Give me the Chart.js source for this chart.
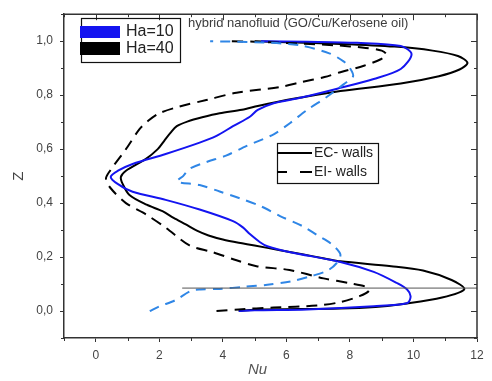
<!DOCTYPE html>
<html lang="en">
<head>
<meta charset="UTF-8">
<title>Nu vs Z, hybrid nanofluid</title>
<script src="https://cdn.jsdelivr.net/npm/chart.js"></script>
<style>
  html, body { margin: 0; padding: 0; background: #fff; }
  #nuChart { display: block; }
</style>
</head>
<body>
<canvas id="nuChart" width="492" height="381"></canvas>
<script>
// Ha=40, EC walls (black solid)
const zHa40EC  = [0.000, 0.005, 0.009, 0.015, 0.028, 0.050, 0.081, 0.115, 0.150, 0.166, 0.184, 0.195, 0.210, 0.225, 0.243, 0.253, 0.265, 0.280, 0.297, 0.320, 0.345, 0.370, 0.394, 0.430, 0.470, 0.497, 0.520, 0.564, 0.600, 0.630, 0.660, 0.685, 0.703, 0.718, 0.733, 0.746, 0.760, 0.775, 0.790, 0.815, 0.843, 0.870, 0.895, 0.920, 0.945, 0.965, 0.980, 0.990, 0.996, 1.000];
const nuHa40EC = [4.5,   5.0,   7.7,   8.8,   9.8,   10.9,  11.6,  11.2,  10.3,  9.3,   7.7,   7.2,   6.5,   5.8,   5.0,   4.5,   4.0,   3.55,  3.2,   2.85,  2.45,  2.1,   1.6,   1.06,  0.85,  0.79,  0.95,  1.58,  1.95,  2.15,  2.35,  2.55,  2.9,   3.35,  3.9,   4.6,   5.1,   5.7,   6.4,   7.7,   9.6,   10.8,  11.45, 11.7,  11.4,  10.6,  9.4,   7.7,   6.0,   5.0];

// Ha=40, EI walls (black dashed)
const zHa40EI  = [0.000, 0.006, 0.013, 0.020, 0.033, 0.055, 0.075, 0.090, 0.103, 0.121, 0.152, 0.166, 0.188, 0.218, 0.243, 0.309, 0.358, 0.400, 0.455, 0.490, 0.520, 0.600, 0.673, 0.705, 0.733, 0.758, 0.782, 0.809, 0.830, 0.849, 0.867, 0.885, 0.909, 0.933, 0.950, 0.965, 0.975, 0.985, 0.993, 0.998, 1.000];
const nuHa40EI = [3.8,   4.5,   5.6,   6.96,  7.7,   8.3,   8.6,   8.5,   8.0,   7.17,  6.1,   5.06,  4.43,  3.69,  2.95,  2.2,   1.58,  0.95,  0.47,  0.32,  0.45,  0.95,  1.37,  1.65,  2.0,   2.64,  3.48,  4.43,  5.8,   6.5,   7.2,   7.7,   8.44,  8.97,  9.15,  9.0,   8.5,   7.5,   6.0,   5.0,   4.2];

// Ha=10, EC walls (blue solid)
const zHa10EC  = [0.000, 0.003, 0.006, 0.018, 0.030, 0.055, 0.080, 0.103, 0.145, 0.182, 0.218, 0.240, 0.255, 0.285, 0.309, 0.333, 0.376, 0.412, 0.442, 0.470, 0.497, 0.520, 0.545, 0.582, 0.624, 0.649, 0.685, 0.720, 0.745, 0.770, 0.790, 0.824, 0.860, 0.897, 0.952, 0.982, 0.994, 0.998, 1.000];
const nuHa10EC = [4.5,   5.0,   6.65,  8.75,  9.81,  9.91,  9.8,   9.49,  8.75,  7.7,   6.12,  5.4,   5.17,  4.85,  4.64,  4.32,  3.27,  2.2,   1.16,  0.7,   0.47,  0.7,   1.16,  2.2,   3.27,  3.8,   4.32,  4.85,  5.1,   5.6,   6.43,  7.6,   8.75,  9.6,   9.94,  9.6,   8.23,  6.65,  5.2];

// Ha=10, EI walls (light blue dashed)
const zHa10EI  = [0.000, 0.017, 0.040, 0.075, 0.080, 0.082, 0.090, 0.097, 0.110, 0.130, 0.150, 0.180, 0.210, 0.240, 0.260, 0.279, 0.315, 0.352, 0.388, 0.418, 0.443, 0.467, 0.480, 0.500, 0.527, 0.552, 0.576, 0.612, 0.655, 0.697, 0.745, 0.794, 0.840, 0.870, 0.900, 0.925, 0.955, 0.985, 0.995, 1.000];
const nuHa10EI = [1.7,   2.0,   2.5,   3.0,   3.3,   3.9,   4.7,   5.4,   6.15,  6.8,   7.3,   7.6,   7.7,   7.5,   7.28,  7.0,   6.5,   5.8,   5.2,   4.53,  3.9,   3.27,  2.55,  2.75,  2.95,  3.48,  4.1,   4.75,  5.6,   6.12,  6.65,  7.28,  7.8,   8.1,   8.0,   7.8,   7.35,  6.4,   5.3,   3.6];

// thin reference line across the lower maximum
const refLineZ  = [0.085, 0.085];
const refLineNu = [2.72, 12];

const xTicks = [0, 2, 4, 6, 8, 10, 12];
const yTicks = [0.0, 0.2, 0.4, 0.6, 0.8, 1.0];
const haLabels = ["Ha=10", "Ha=40"];
const wallLabels = ["EC- walls", "EI- walls"];
const caseTitle = "hybrid nanofluid (GO/Cu/Kerosene oil)";
const xTitle = "Nu";

const BLUE = "#1414f0";
const LIGHTBLUE = "#2f86e6";
const AXIS = "#333333";
const FONT = "Arial, 'Liberation Sans', sans-serif";

function pts(nu, z) {
    return nu.map((v, i) => ({ x: v, y: z[i] }));
}

// frame, mirrored ticks, minor ticks, x title and the two keys
const decorations = {
    id: "decorations",
    afterDraw(chart) {
        const ctx = chart.ctx;
        const ca = chart.chartArea;
        const xs = chart.scales.x;
        const ys = chart.scales.y;
        ctx.save();
        ctx.strokeStyle = AXIS;
        ctx.lineWidth = 1.5;
        ctx.beginPath();
        ctx.moveTo(ca.left, ca.top);
        ctx.lineTo(ca.right, ca.top);
        ctx.lineTo(ca.right, ca.bottom);
        ctx.stroke();

        ctx.lineWidth = 1;
        ctx.beginPath();
        for (let v = -1; v <= 12; v++) {
            const px = Math.round(xs.getPixelForValue(v)) + 0.5;
            const major = v % 2 === 0;
            ctx.moveTo(px, ca.top);
            ctx.lineTo(px, ca.top + (major ? 6 : 3));
            if (!major) {
                ctx.moveTo(px, ca.bottom);
                ctx.lineTo(px, ca.bottom + 3);
            }
        }
        for (let k = -1; k <= 11; k++) {
            const v = k / 10;
            const py = Math.round(ys.getPixelForValue(v)) + 0.5;
            const major = k % 2 === 0;
            ctx.moveTo(ca.right, py);
            ctx.lineTo(ca.right - (major ? 6 : 3), py);
            if (!major) {
                ctx.moveTo(ca.left, py);
                ctx.lineTo(ca.left - 3, py);
            }
        }
        ctx.stroke();

        ctx.textBaseline = "middle";

        // x axis title
        ctx.fillStyle = "#555";
        ctx.font = "italic 15px " + FONT;
        ctx.fillText(xTitle, 248, 370);

        // case title
        ctx.fillStyle = "#3c3c3c";
        ctx.font = "13px " + FONT;
        ctx.fillText(caseTitle, 188, 23);

        // Ha key
        ctx.strokeStyle = "#111";
        ctx.lineWidth = 1.2;
        ctx.strokeRect(81.5, 18.5, 99, 44);
        ctx.fillStyle = BLUE;
        ctx.fillRect(80, 26, 40, 12);
        ctx.fillStyle = "#000";
        ctx.fillRect(80, 42, 40, 13);
        ctx.fillStyle = "#222";
        ctx.font = "16px " + FONT;
        ctx.fillText(haLabels[0], 126, 32);
        ctx.fillText(haLabels[1], 126, 49);

        // wall key
        ctx.lineWidth = 1.2;
        ctx.strokeRect(277.5, 143.5, 101, 40);
        ctx.lineWidth = 2;
        ctx.strokeStyle = "#000";
        ctx.beginPath();
        ctx.moveTo(277, 153);
        ctx.lineTo(312, 153);
        ctx.moveTo(277, 172);
        ctx.lineTo(287, 172);
        ctx.moveTo(300, 172);
        ctx.lineTo(312, 172);
        ctx.stroke();
        ctx.fillStyle = "#222";
        ctx.font = "14px " + FONT;
        ctx.fillText(wallLabels[0], 314, 153);
        ctx.fillText(wallLabels[1], 314, 172);
        ctx.restore();
    }
};

const line = (label, data, color, dash) => ({
    label: label,
    data: data,
    showLine: true,
    borderColor: color,
    backgroundColor: color,
    borderWidth: 2,
    borderDash: dash,
    pointRadius: 0,
    tension: 0.3,
    fill: false
});

new Chart(document.getElementById("nuChart").getContext("2d"), {
    type: "scatter",
    data: {
        datasets: [
            {
                label: "reference",
                data: pts(refLineNu, refLineZ),
                showLine: true,
                borderColor: "#555",
                borderWidth: 1,
                pointRadius: 0
            },
            line("Ha=10 EI- walls", pts(nuHa10EI, zHa10EI), LIGHTBLUE, [10, 7]),
            line("Ha=40 EI- walls", pts(nuHa40EI, zHa40EI), "#000", [11, 7]),
            line("Ha=10 EC- walls", pts(nuHa10EC, zHa10EC), BLUE, []),
            line("Ha=40 EC- walls", pts(nuHa40EC, zHa40EC), "#000", [])
        ]
    },
    options: {
        responsive: false,
        animation: false,
        layout: { padding: { left: 8, right: 15, top: 9, bottom: 0 } },
        plugins: { legend: { display: false }, tooltip: { enabled: false } },
        scales: {
            x: {
                type: "linear",
                min: -1,
                max: 12,
                afterFit: s => { s.height = 43; },
                afterBuildTicks: s => { s.ticks = xTicks.map(v => ({ value: v })); },
                ticks: { color: "#444", font: { family: FONT, size: 12 }, padding: 6, maxRotation: 0 },
                grid: { drawOnChartArea: false, drawTicks: true, tickLength: 4, color: AXIS },
                border: { color: AXIS, width: 1.5 },
                title: { display: false }
            },
            y: {
                type: "linear",
                min: -0.1,
                max: 1.1,
                afterFit: s => { s.width = 56; },
                afterBuildTicks: s => { s.ticks = yTicks.map(v => ({ value: v })); },
                ticks: {
                    color: "#444",
                    font: { family: FONT, size: 12 },
                    padding: 7,
                    callback: v => v.toFixed(1).replace(".", ",")
                },
                grid: { drawOnChartArea: false, drawTicks: true, tickLength: 4, color: AXIS },
                border: { color: AXIS, width: 1.5 },
                title: { display: true, text: "Z", color: "#444", font: { family: FONT, size: 15 }, padding: 2 }
            }
        }
    },
    plugins: [decorations]
});
</script>
</body>
</html>
